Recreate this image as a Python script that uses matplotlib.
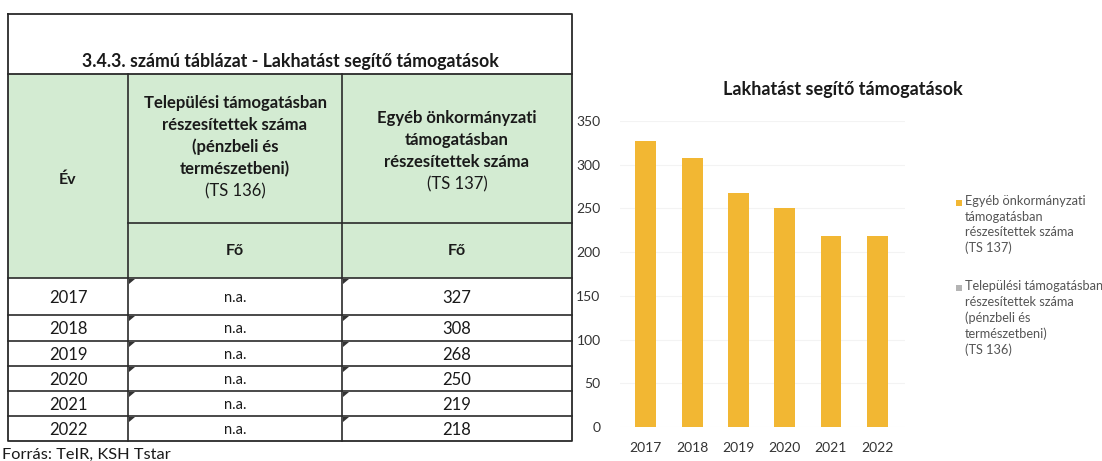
import matplotlib
matplotlib.use('Agg')
import matplotlib.pyplot as plt
from matplotlib.patches import Rectangle, Polygon

# Adatok
years = ['2017', '2018', '2019', '2020', '2021', '2022']
ts136 = ['n.a.', 'n.a.', 'n.a.', 'n.a.', 'n.a.', 'n.a.']
ts137 = [327, 308, 268, 250, 219, 218]

table_title = '3.4.3. számú táblázat - Lakhatást segítő támogatások'
chart_title = 'Lakhatást segítő támogatások'
ts136_head = ['Települési támogatásban', 'részesítettek száma', '(pénzbeli és', 'természetbeni)']
ts137_head = ['Egyéb önkormányzati', 'támogatásban', 'részesítettek száma']
ts136_label = 'Települési támogatásban\nrészesítettek száma\n(pénzbeli és\ntermészetbeni)\n(TS 136)'
ts137_label = 'Egyéb önkormányzati\ntámogatásban\nrészesítettek száma\n(TS 137)'

bar_color = '#f2b733'
grey_color = '#b4b4b4'
green = '#d3ebd2'
txt = '#1a1a1a'
plt.rcParams['font.family'] = ['Lato', 'DejaVu Sans']

W, H = 1102, 461
fig = plt.figure(figsize=(W / 100, H / 100), dpi=100)

# Táblázat pixel koordinátákban
ax_t = fig.add_axes([0, 0, 1, 1])
ax_t.set_xlim(0, W)
ax_t.set_ylim(H, 0)
ax_t.axis('off')

x0, x1, x2, x3 = 8, 128, 342, 572
y_top, y_title, y_fo, y_head = 14, 74, 223, 278
row_edges = [278, 315, 341, 366, 391, 416, 441]
lc = '#2a2a2a'

# zöld fejléc
ax_t.add_patch(Rectangle((x0, y_title), x3 - x0, y_head - y_title, facecolor=green, edgecolor='none'))

# keret és vonalak
ax_t.plot([x0, x3, x3, x0, x0], [y_top, y_top, row_edges[-1], row_edges[-1], y_top], color=lc, lw=1.3)
ax_t.plot([x0, x3], [y_title, y_title], color=lc, lw=1.3)
ax_t.plot([x1, x3], [y_fo, y_fo], color=lc, lw=1.2)
for y in row_edges[:-1]:
    ax_t.plot([x0, x3], [y, y], color=lc, lw=1.2)
for x in (x1, x2):
    ax_t.plot([x, x], [y_title, row_edges[-1]], color=lc, lw=1.2)

# szövegek
ax_t.text((x0 + x3) / 2, 67, table_title, ha='center', va='baseline', fontsize=12.8, fontweight='bold', color=txt)
ax_t.text((x0 + x1) / 2, 180, 'Év', ha='center', va='center', fontsize=11.5, fontweight='bold', color=txt)

c1 = (x1 + x2) / 2
for i, s in enumerate(ts136_head):
    ax_t.text(c1, 103 + i * 22, s, ha='center', va='center', fontsize=12, fontweight='bold', color=txt)
ax_t.text(c1, 103 + 4 * 22, '(TS 136)', ha='center', va='center', fontsize=12, color=txt)

c2 = (x2 + x3) / 2
for i, s in enumerate(ts137_head):
    ax_t.text(c2, 118 + i * 22, s, ha='center', va='center', fontsize=12, fontweight='bold', color=txt)
ax_t.text(c2, 118 + 3 * 22, '(TS 137)', ha='center', va='center', fontsize=12, color=txt)

ax_t.text(c1, 251, 'Fő', ha='center', va='center', fontsize=11.5, fontweight='bold', color=txt)
ax_t.text(c2, 251, 'Fő', ha='center', va='center', fontsize=11.5, fontweight='bold', color=txt)

for i, (yr, a, b) in enumerate(zip(years, ts136, ts137)):
    ya, yb = row_edges[i], row_edges[i + 1]
    yc = (ya + yb) / 2 + 1
    ax_t.text((x0 + x1) / 2, yc, yr, ha='center', va='center', fontsize=12, color=txt)
    ax_t.text(c1, yc, a, ha='center', va='center', fontsize=10.5, color=txt)
    ax_t.text(c2, yc, str(b), ha='center', va='center', fontsize=12, color=txt)
    # kis háromszögek a cellák sarkában
    for xc in (x1, x2):
        ax_t.add_patch(Polygon([(xc + 1, ya + 1), (xc + 7, ya + 1), (xc + 1, ya + 6)],
                               closed=True, facecolor='#333333', edgecolor='none'))

ax_t.text(2, 459, 'Forrás: TeIR, KSH Tstar', ha='left', va='baseline', fontsize=11.8, color=txt)

# Oszlopdiagram
ax = fig.add_axes([620 / W, 34 / H, 285 / W, 306 / H])
ax.bar(years, ts137, width=0.45, color=bar_color, zorder=2)
ax.set_ylim(0, 350)
ax.set_xlim(-0.56, 5.6)
ax.set_yticks(range(0, 351, 50))
ax.grid(axis='y', color='#f3f3f3', lw=0.8, zorder=0)
ax.tick_params(length=0, labelsize=10, colors='#333333')
ax.tick_params(axis='y', pad=14)
ax.tick_params(axis='x', pad=11)
for s in ax.spines.values():
    s.set_visible(False)

ax_t.text(843, 90, chart_title, ha='center', va='center', fontsize=13, fontweight='bold', color=txt)

# jelmagyarázat: a négyzet az első sor mellett
legend_items = [(ts137_label, bar_color, 203), (ts136_label, grey_color, 288)]
for label, col, ly in legend_items:
    ax_t.add_patch(Rectangle((956, ly - 3), 6, 6, facecolor=col, edgecolor='none'))
    ax_t.text(965, ly - 8, label, ha='left', va='top', fontsize=9.2, color='#555555', linespacing=1.35)

plt.savefig('out.png', dpi=100, facecolor='white')
plt.close()
